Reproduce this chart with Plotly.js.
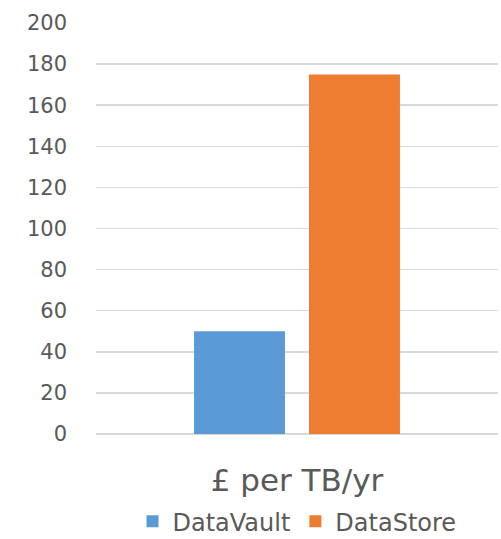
<!DOCTYPE html>
<html>
<head>
<meta charset="utf-8">
<script src="https://cdn.plot.ly/plotly-3.0.1.min.js"></script>
<style>html,body{margin:0;padding:0;background:#fff;}#chart{width:501px;height:539px;}</style>
</head>
<body>
<div id="chart"></div>
<script>
const categories = ["£ per TB/yr"];
const seriesNames = ["DataVault", "DataStore"];
const dataVault = [50];
const dataStore = [175];
const yTicks = [0, 20, 40, 60, 80, 100, 120, 140, 160, 180, 200];

const font = "'DejaVu Sans', sans-serif";
const traces = [
  {type: "bar", name: seriesNames[0], x: categories, y: dataVault, marker: {color: "#5B9BD5"}, hoverinfo: "none"},
  {type: "bar", name: seriesNames[1], x: categories, y: dataStore, marker: {color: "#ED7D31"}, hoverinfo: "none"}
];
const layout = {
  width: 501, height: 539,
  margin: {l: 96, r: 3, t: 23, b: 105, autoexpand: false},
  paper_bgcolor: "#fff", plot_bgcolor: "#fff",
  barmode: "group", bargap: 0.428, bargroupgap: 0.209,
  font: {family: font, color: "#595959"},
  xaxis: {
    type: "category", showgrid: false, showline: false, zeroline: false,
    tickfont: {size: 31, color: "#595959"}, ticks: "", ticklabelstandoff: 25
  },
  yaxis: {
    range: [0, 200], tickvals: yTicks, ticktext: yTicks.map(String),
    showgrid: true, gridcolor: "#D9D9D9", gridwidth: 1.5,
    zeroline: true, zerolinecolor: "#D9D9D9", zerolinewidth: 1.5,
    showline: false, ticks: "", tickfont: {size: 21, color: "#595959"},
    ticklabelstandoff: 28, fixedrange: true
  },
  legend: {
    orientation: "h", x: 0.5, xanchor: "center",
    yref: "container", y: 0.032, yanchor: "middle",
    font: {size: 24, color: "#595959"}, itemwidth: 30, traceorder: "normal"
  },
  showlegend: true
};
Plotly.newPlot("chart", traces, layout, {staticPlot: true, displayModeBar: false});
</script>
</body>
</html>
